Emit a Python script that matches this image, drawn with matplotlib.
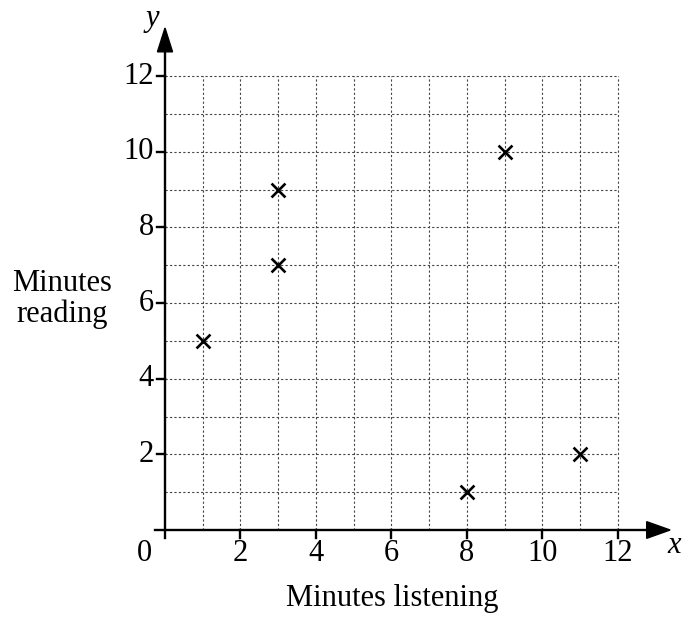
import matplotlib
matplotlib.use("Agg")
import matplotlib.pyplot as plt
from matplotlib.patches import Polygon

minutes_listening = [1, 3, 3, 9, 8, 11]
minutes_reading = [5, 9, 7, 10, 1, 2]
x_ticks = [2, 4, 6, 8, 10, 12]
y_ticks = [2, 4, 6, 8, 10, 12]

plt.rcParams['font.family'] = ['Liberation Serif', 'DejaVu Serif']

fig = plt.figure(figsize=(6.83, 6.17), dpi=100)
ax = fig.add_axes([0, 0, 1, 1])
sx, sy = 37.75, 37.83
ax.set_xlim((0 - 165) / sx, (683 - 165) / sx)
ax.set_ylim((530 - 617) / sy, (530 - 0) / sy)
ax.axis('off')

FS = 22

# grid
for i in range(1, 13):
    ax.plot([i, i], [0, 12], color='#444444', lw=0.8, linestyle=(0, (2, 2)), zorder=1)
    ax.plot([0, 12], [i, i], color='#444444', lw=0.8, linestyle=(0, (2, 2)), zorder=1)

# axes lines
ax.plot([-0.27, 12.8], [0, 0], color='black', lw=1.7, zorder=3)
ax.plot([0, 0], [-0.22, 12.66], color='black', lw=1.7, zorder=3)
# arrow heads
ax.add_patch(Polygon([[12.76, 0.22], [13.38, 0], [12.76, -0.22]], closed=True,
                     color='black', zorder=4))
ax.add_patch(Polygon([[-0.2, 12.64], [0, 13.27], [0.2, 12.64]], closed=True,
                     color='black', zorder=4))

# ticks
for t in x_ticks:
    ax.plot([t, t], [0, -0.21], color='black', lw=1.7, zorder=3)
    ax.text(t, -0.61, str(t), ha='center', va='center', fontsize=FS)
for t in y_ticks:
    ax.plot([0, -0.21], [t, t], color='black', lw=1.7, zorder=3)
    ax.text(-0.3, t, str(t), ha='right', va='center', fontsize=FS)
ax.text(-0.54, -0.61, '0', ha='center', va='center', fontsize=FS)

# axis letters
ax.text(13.5, -0.42, 'x', ha='center', va='center', fontsize=FS, style='italic')
ax.text(-0.34, 13.53, 'y', ha='center', va='center', fontsize=FS, style='italic')

# labels
ax.text(-2.72, 6.1, 'Minutes\nreading', ha='center', va='center', fontsize=FS,
        linespacing=1.05)
ax.text(6.03, -1.8, 'Minutes listening', ha='center', va='center', fontsize=FS)

# data
ax.scatter(minutes_listening, minutes_reading, marker='x', s=100, color='black',
           linewidths=1.9, zorder=5)

fig.savefig('out.png', dpi=100)
